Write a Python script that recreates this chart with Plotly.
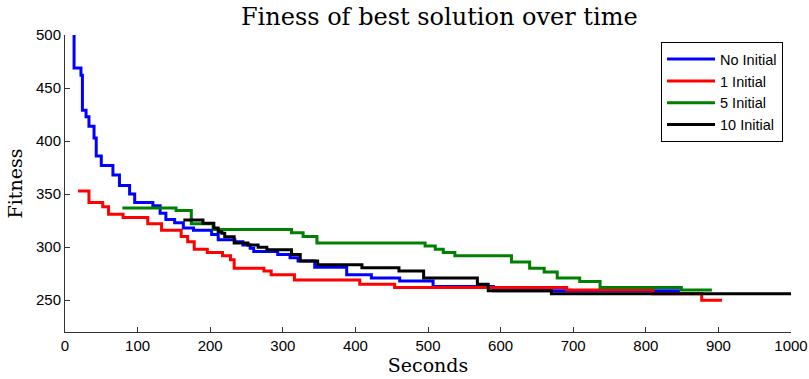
import plotly.graph_objects as go

# Data (seconds, fitness) – step series
blue_t = [12, 12.5, 22, 24, 29, 33, 40, 43, 50, 66, 75, 89, 96, 121, 131, 139, 151, 163, 177, 202, 211, 234, 245, 255, 260, 293, 310, 321, 344, 388, 422, 461, 507, 590, 847]
blue_f = [500, 469, 462, 429, 423, 414, 403, 386, 377, 368, 358, 350, 342, 339, 332, 326, 323, 318, 316, 312, 307, 305, 302, 299, 296, 293, 290, 287, 281, 274, 271, 268, 263, 259, 259]

red_t = [18, 33, 52, 60, 80, 114, 133, 160, 169, 178, 196, 217, 228, 233, 274, 284, 316, 406, 454, 691, 810, 877, 905]
red_f = [353, 342, 338, 331, 328, 322, 316, 310, 305, 298, 295, 292, 288, 280, 277.5, 274, 269, 265, 262, 259.5, 256, 250, 250]

green_t = [79, 153, 174, 204, 312, 328, 347, 496, 510, 521, 537, 615, 640, 660, 678, 709, 737, 849, 891]
green_f = [337, 334.5, 322, 316.7, 313.5, 310, 304, 301, 298, 295, 292, 286, 280, 276.5, 271, 267.5, 262, 259.5, 259.5]

black_t = [163, 190, 205, 211, 216, 220, 233, 252, 266, 278, 312, 324, 348, 409, 460, 494, 568, 583, 670, 1000]
black_f = [325.5, 322.5, 318, 314.5, 313, 309.7, 304, 302, 300, 297.5, 293, 287, 283.5, 280.5, 277.5, 271, 265, 259, 256, 256]

series = [
    ("No Initial", blue_t, blue_f, "#0000FF"),
    ("1 Initial", red_t, red_f, "#FF0000"),
    ("5 Initial", green_t, green_f, "#008000"),
    ("10 Initial", black_t, black_f, "#000000"),
]

x_ticks = [0, 100, 200, 300, 400, 500, 600, 700, 800, 900, 1000]
y_ticks = [250, 300, 350, 400, 450, 500]

fig = go.Figure()
for name, t, f, c in series:
    fig.add_trace(go.Scatter(x=t, y=f, name=name, mode="lines",
                             line=dict(color=c, width=3, shape="hv")))

axis_font = dict(family="Liberation Sans, Arial, sans-serif", size=15, color="#000")
serif = "DejaVu Serif, serif"
fig.update_layout(
    width=809, height=379,
    margin=dict(l=65, r=18, t=35, b=47, autoexpand=False),
    paper_bgcolor="white", plot_bgcolor="white",
    title=dict(text="Finess of best solution over time", x=0.543, xanchor="center",
               y=0.955, yanchor="middle", automargin=False,
               font=dict(family=serif, size=24, color="#000")),
    legend=dict(x=0.989, y=0.976, xanchor="right", yanchor="top",
                bgcolor="white", bordercolor="#000", borderwidth=1,
                font=dict(family="Liberation Sans, Arial, sans-serif", size=14.5, color="#000"),
                tracegroupgap=0, itemwidth=48),
    showlegend=True,
)
fig.update_xaxes(range=[0, 1000], tickvals=x_ticks, ticks="inside", ticklen=5,
                 tickcolor="#333", showline=True, linecolor="#333", linewidth=1,
                 showgrid=False, zeroline=False, tickfont=axis_font, automargin=False,
                 title=dict(text="Seconds", standoff=2,
                            font=dict(family=serif, size=19, color="#000")))
fig.update_yaxes(range=[220, 500], tickvals=y_ticks, ticks="inside", ticklen=5,
                 tickcolor="#333", showline=True, linecolor="#333", linewidth=1,
                 showgrid=False, zeroline=False, tickfont=axis_font, automargin=False,
                 title=dict(text="Fitness", standoff=8,
                            font=dict(family=serif, size=19, color="#000")))

fig.write_html("out.html")
